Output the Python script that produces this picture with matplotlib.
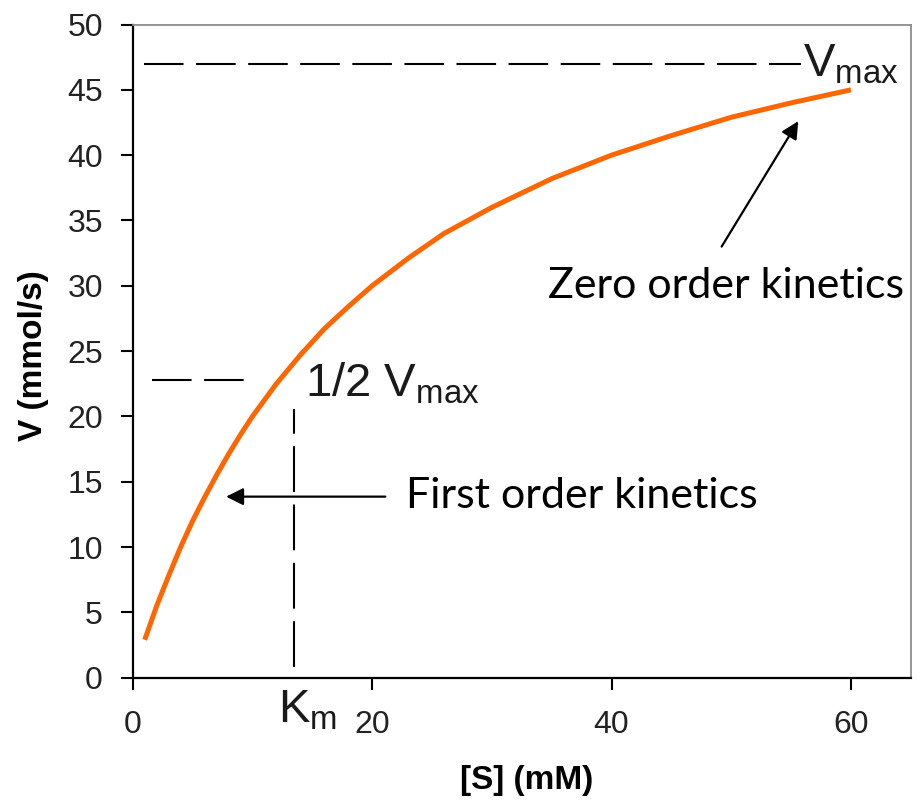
import matplotlib
matplotlib.use("Agg")
import matplotlib.pyplot as plt

# substrate concentration [S] (mM) and reaction rate V (mmol/s)
S = [1, 1.5, 2, 3, 4, 5, 6, 7, 8, 9, 10, 12, 14, 16, 18, 20, 23, 26, 30,
     35, 40, 45, 50, 55, 60]
V = [2.9, 4.2, 5.5, 7.8, 10.0, 12.0, 13.8, 15.5, 17.1, 18.6, 20.0, 22.5,
     24.7, 26.7, 28.4, 30.0, 32.1, 34.0, 36.0, 38.2, 40.0, 41.5, 42.9, 44.0,
     45.0]

# annotation values
vmax_level = 47.0
half_vmax_level = 22.8
km_value = 13.5

x_ticks = [0, 20, 40, 60]
y_ticks = [0, 5, 10, 15, 20, 25, 30, 35, 40, 45, 50]

plt.rcParams['mathtext.fontset'] = 'custom'
plt.rcParams['mathtext.rm'] = 'Liberation Sans'
plt.rcParams['mathtext.it'] = 'Liberation Sans'

fig = plt.figure(figsize=(9.18, 8.09), dpi=100)
ax = fig.add_axes([0.1446, 0.1623, 0.8475, 0.8074])

# the curve
ax.plot(S, V, color='#FF6600', lw=3.6, solid_capstyle='butt', zorder=3)

# dashed guide lines
ax.plot([0.95, 55.8], [vmax_level, vmax_level], color='black', lw=1.5,
        dashes=(19, 6))
ax.plot([1.6, 9.7], [half_vmax_level, half_vmax_level], color='black', lw=1.5,
        dashes=(19, 6))
ax.plot([km_value, km_value], [0.85, 20.6], color='black', lw=1.5,
        dashes=(22, 6))

# labels on the guides
ax.text(56.0, 46.0, r'V$_{\mathrm{max}}$', fontsize=34, family='Liberation Sans',
        color='#1a1a1a', va='baseline', ha='left')
ax.text(14.4, 21.5, r'1/2 V$_{\mathrm{max}}$', fontsize=34, family='Liberation Sans',
        color='#1a1a1a', va='baseline', ha='left')
ax.text(12.15, -0.069, r'K$_{\mathrm{m}}$', fontsize=34, family='Liberation Sans',
        color='#1a1a1a', va='baseline', ha='left',
        transform=ax.get_xaxis_transform())

# kinetics annotations with arrows
ax.annotate('', xy=(55.6, 42.6), xytext=(49.2, 33.0),
            arrowprops=dict(arrowstyle='-|>', color='black', lw=1.6,
                            mutation_scale=26, shrinkA=0, shrinkB=0))
ax.text(34.7, 29.1, 'Zero order kinetics', fontsize=31, family='Lato',
        va='baseline', ha='left')
ax.annotate('', xy=(7.8, 13.86), xytext=(21.1, 13.86),
            arrowprops=dict(arrowstyle='-|>', color='black', lw=1.6,
                            mutation_scale=26, shrinkA=0, shrinkB=0))
ax.text(22.8, 13.0, 'First order kinetics', fontsize=31, family='Lato',
        va='baseline', ha='left')

# axes styling
ax.set_xlim(0, 65)
ax.set_ylim(0, 50)
ax.set_xticks(x_ticks)
ax.set_yticks(y_ticks)
ax.tick_params(axis='both', direction='out', length=8.5, width=1.5,
               labelsize=23, colors='black', labelcolor='#222222')
ax.tick_params(axis='y', pad=13)
ax.tick_params(axis='x', pad=15)
for lab in ax.get_xticklabels() + ax.get_yticklabels():
    lab.set_family('Liberation Sans')
for side in ['left', 'bottom']:
    ax.spines[side].set_color('black')
    ax.spines[side].set_linewidth(1.6)
for side in ['top', 'right']:
    ax.spines[side].set_color('#8c8c8c')
    ax.spines[side].set_linewidth(1.3)

fig.text(0.5735, 0.025, '[S] (mM)', fontsize=24, fontweight='bold',
         family='Liberation Sans', ha='center', va='baseline')
fig.text(0.036, 0.56, 'V (mmol/s)', fontsize=24, fontweight='bold',
         family='Liberation Sans', ha='center', va='center', rotation=90)

fig.savefig('out.png', dpi=100)
